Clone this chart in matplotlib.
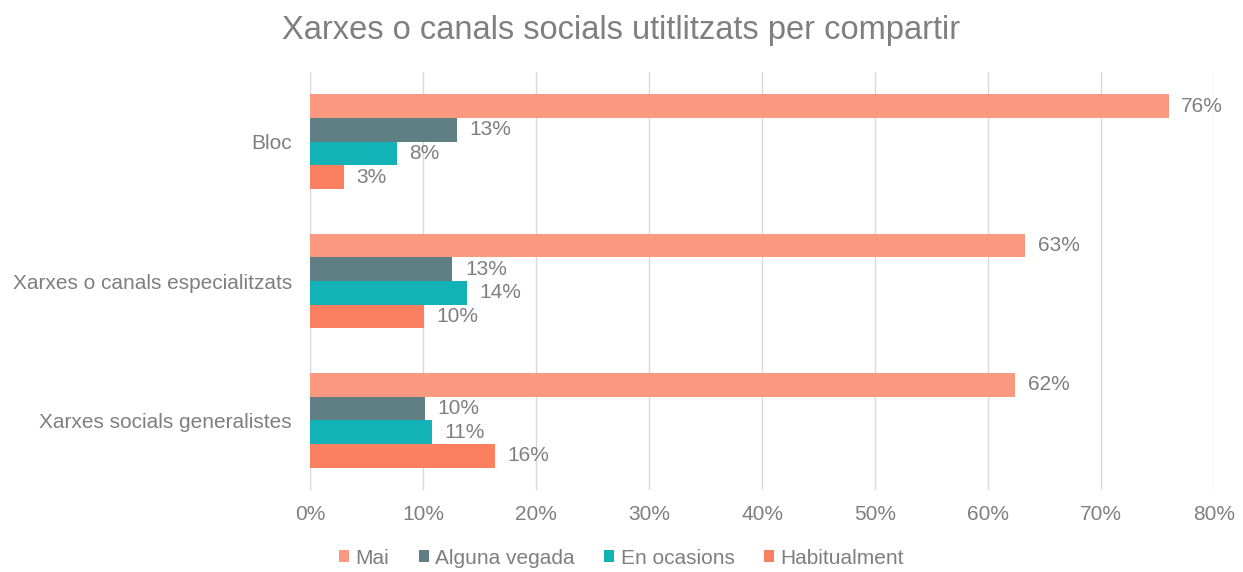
import numpy as np
import matplotlib.pyplot as plt

plt.rcParams['font.family'] = ['Liberation Sans', 'DejaVu Sans']

# Categories (top to bottom) and series values in %
categories = ['Bloc', 'Xarxes o canals especialitzats', 'Xarxes socials generalistes']
series = ['Mai', 'Alguna vegada', 'En ocasions', 'Habitualment']
mai = [76.0, 63.3, 62.4]
alguna_vegada = [13.0, 12.6, 10.2]
en_ocasions = [7.7, 13.9, 10.8]
habitualment = [3.0, 10.1, 16.4]
colors = ['#F9997F', '#5F7F84', '#12B2B6', '#FB8061']

values = [mai, alguna_vegada, en_ocasions, habitualment]
grey = '#7F7F7F'

fig = plt.figure(figsize=(12.43, 5.72), dpi=100)
ax = fig.add_axes([0.2494, 0.1434, 0.7273, 0.7306])

y = np.arange(len(categories))
h = 0.17
for i, (name, vals, c) in enumerate(zip(series, values, colors)):
    pos = y + (i - 1.5) * h
    bars = ax.barh(pos, vals, height=h, color=c, label=name, zorder=3)
    for b, v in zip(bars, vals):
        ax.annotate(f'{v:.0f}%', (b.get_width(), b.get_y() + b.get_height() / 2),
                    xytext=(9, 0), textcoords='offset points', va='center', ha='left',
                    fontsize=15, color=grey)

ax.set_ylim(len(categories) - 0.5, -0.5)
ax.set_yticks(y)
ax.set_yticklabels(categories)
ax.set_xlim(0, 80)
ax.set_xticks(np.arange(0, 81, 10))
ax.set_xticklabels([f'{t}%' for t in range(0, 81, 10)])
ax.tick_params(axis='both', length=0, labelsize=15, colors=grey)
ax.tick_params(axis='y', pad=13)
ax.tick_params(axis='x', pad=11)
ax.grid(axis='x', color='#D9D9D9', linewidth=1, zorder=0)
for s in ['top', 'right', 'bottom']:
    ax.spines[s].set_visible(False)
ax.spines['left'].set_color('#D9D9D9')

fig.suptitle('Xarxes o canals socials utitlitzats per compartir', fontsize=23.5,
             color=grey, y=0.973)

fig.legend(loc='lower center', ncol=4, frameon=False, fontsize=15, labelcolor=grey,
           bbox_to_anchor=(0.5, -0.025), handlelength=0.5, handleheight=0.5,
           handletextpad=0.3, columnspacing=1.4)

fig.savefig('out.png', dpi=100)
